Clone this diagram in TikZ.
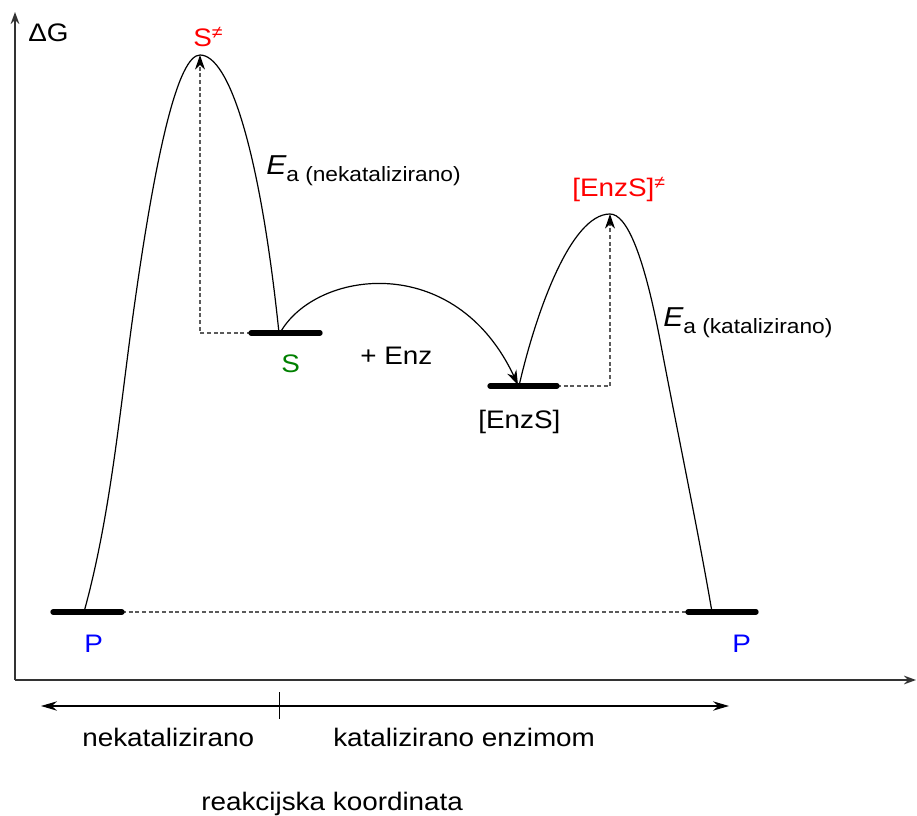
\documentclass[tikz,border=0pt]{standalone}
\usepackage{fontspec}
\setmainfont{Liberation Sans}
\usetikzlibrary{arrows.meta}
\newcommand{\wx}[1]{\scalebox{1.1}[1]{#1}}
\newcommand{\mainsz}{\fontsize{19}{22}\selectfont}
\newcommand{\subsz}{\fontsize{15.5}{18}\selectfont}
\newcommand{\esz}{\fontsize{20.5}{24}\selectfont}
\definecolor{lblred}{RGB}{255,0,0}
\definecolor{lblgreen}{RGB}{0,128,0}
\definecolor{lblblue}{RGB}{0,0,255}
\definecolor{dashgray}{RGB}{90,90,90}
\tikzset{
  txt/.style={inner sep=0pt, anchor=base west, font=\mainsz},
  axis/.style={line width=1.3pt, draw=black!80, -{Stealth[length=9pt,width=6.5pt]}},
  level/.style={line width=4pt, line cap=round},
  curve/.style={line width=0.9pt},
  guide/.style={line width=0.9pt, draw=dashgray, dash pattern=on 3pt off 2pt},
  tip/.style={-{Stealth[length=11pt,width=7.5pt,color=black]}}
}
\begin{document}
\begin{tikzpicture}[x=0.75pt,y=-0.75pt]
\useasboundingbox (0,0) rectangle (917,816);
% axes
\coordinate (O) at (15,680);
\coordinate (Ytop) at (15,12);
\coordinate (Xend) at (916,680);
\draw[axis] (O) -- (Ytop);
\draw[axis] (O) -- (Xend);
\node[txt] (dg) at (28,42) {\wx{ΔG}};
% levels
\coordinate (P1a) at (53,612); \coordinate (P1b) at (122,612);
\coordinate (P2a) at (688,612); \coordinate (P2b) at (756,612);
\coordinate (Sa) at (251,333); \coordinate (Sb) at (320,333);
\coordinate (Ea) at (490,386); \coordinate (Eb) at (557,386);
\coordinate (TS) at (200,55);
\coordinate (TE) at (610,214);
\coordinate (P1c) at (84,612);
\coordinate (Sc) at (279,333);
\coordinate (Ec) at (519,386);
\coordinate (P2c) at (712,612);
% dashed guides
\draw[guide] (P1b) -- (P2a);
\draw[guide, tip] (Sa) -| (TS);
\draw[guide, tip] (Eb) -| (TE);
% uncatalysed curve
\draw[curve] (P1c) .. controls (109,522) and (119,420) .. (131,330)
  .. controls (155.7,146.7) and (178.7,55) .. (TS)
  .. controls (229,55) and (260,150) .. (Sc);
% catalysed curve
\draw[curve] (Ec) .. controls (535,316) and (570,214) .. (TE)
  .. controls (627,214) and (644,256) .. (660,340)
  .. controls (677,430) and (698,530) .. (P2c);
% S -> EnzS
\coordinate (Sd) at (280,333);
\coordinate (Ed) at (518,385);
\draw[curve, tip] (Sd) .. controls (315,270) and (455,250) .. (Ed);
% levels (on top)
\draw[level] (P1a) -- (P1b);
\draw[level] (P2a) -- (P2b);
\draw[level] (Sa) -- (Sb);
\draw[level] (Ea) -- (Eb);
% labels
\node[txt, text=lblred] (Sts) at (193,47) {\wx{S\textsuperscript{≠}}};
\node[txt, text=lblred] (Ets) at (572,197) {\wx{[EnzS]\textsuperscript{≠}}};
\node[txt, text=lblgreen] (Sl) at (281,373) {\wx{S}};
\node[txt] (enz) at (360,365) {\wx{+ Enz}};
\node[txt] (ESl) at (478,428) {\wx{[EnzS]}};
\node[txt, text=lblblue] (P1l) at (84,652) {\wx{P}};
\node[txt, text=lblblue] (P2l) at (732,652) {\wx{P}};
\node[txt] (ea1) at (266,175) {\wx{{\esz\itshape E}\raisebox{-5pt}{\subsz a (nekatalizirano)}}};
\node[txt] (ea2) at (663,327) {\wx{{\esz\itshape E}\raisebox{-5pt}{\subsz a (katalizirano)}}};
% bottom
\coordinate (BL) at (41,706);
\coordinate (BR) at (729,706);
\coordinate (Tt) at (279,692);
\coordinate (Tb) at (279,719);
\draw[line width=0.9pt, {Stealth[length=12pt,width=7pt]}-{Stealth[length=12pt,width=7pt]}] (BL) -- (BR);
\draw[line width=0.7pt] (Tt) -- (Tb);
\node[txt] (nk) at (82,746) {\wx{nekatalizirano}};
\node[txt] (ke) at (333,746) {\wx{katalizirano enzimom}};
\node[txt] (rk) at (201,810) {\wx{reakcijska koordinata}};
\end{tikzpicture}
\end{document}
